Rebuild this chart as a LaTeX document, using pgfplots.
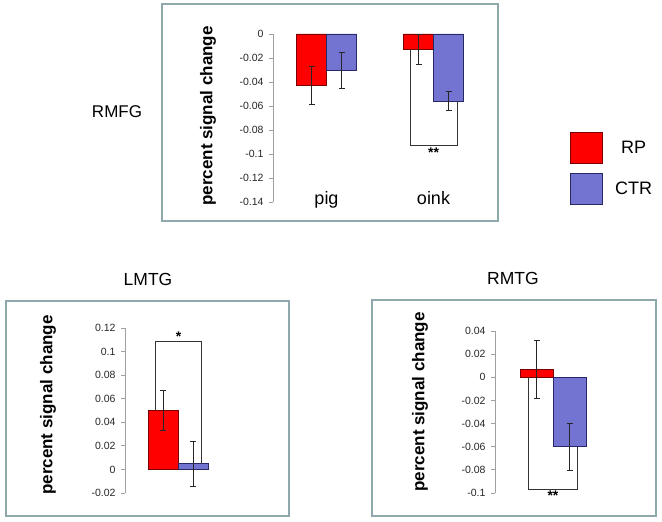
\documentclass[border=0pt]{standalone}
\usepackage{pgfplots}
\pgfplotsset{compat=1.18}
\usepackage{fontspec}
\setmainfont{Liberation Sans}
\definecolor{rpred}{RGB}{255,0,0}
\definecolor{rpedge}{RGB}{120,0,0}
\definecolor{ctrblue}{RGB}{115,115,210}
\definecolor{ctredge}{RGB}{40,40,100}
\definecolor{frame}{RGB}{143,168,172}
\definecolor{axgray}{RGB}{160,160,160}
\tikzset{sigstar/.style={font=\bfseries\fontsize{14}{16}\selectfont, inner sep=1pt}}
\pgfplotsset{
  myax/.style={
    scale only axis, ybar=0pt, clip=false,
    axis x line=none, axis y line*=left,
    y axis line style={axgray, line width=0.8pt, -},
    ytick style={axgray, line width=0.8pt},
    tick align=outside, major tick length=4pt,
    scaled y ticks=false,
    yticklabel style={font=\fontsize{10.5}{12}\selectfont, text=black!85, xshift=-2pt,
      /pgf/number format/fixed, /pgf/number format/precision=2,
      /pgf/number format/assume math mode=true},
    every axis y label/.style={rotate=90, anchor=center,
      font=\bfseries\fontsize{17}{20}\selectfont},
    error bars/y dir=both, error bars/y explicit,
    error bars/error bar style={line width=0.7pt, black!85},
    error bars/error mark options={rotate=90, mark size=3pt, line width=0.7pt, black!85},
  },
  rpbar/.style={fill=rpred, draw=rpedge, line width=0.6pt,
    legend image code/.code={\draw[fill=rpred, draw=rpedge, line width=0.8pt] (0pt,-15.5pt) rectangle (32pt,15.5pt);}},
  ctrbar/.style={fill=ctrblue, draw=ctredge, line width=0.6pt,
    legend image code/.code={\draw[fill=ctrblue, draw=ctredge, line width=0.8pt] (0pt,-15.5pt) rectangle (32pt,15.5pt);}},
}
\begin{document}
\begin{tikzpicture}
\path[use as bounding box] (0pt,0pt) rectangle (662pt,522pt);
% frames
\draw[frame, line width=2pt] (162pt,518pt) rectangle (498pt,301pt);
\draw[frame, line width=2pt] (6pt,221pt) rectangle (289pt,6pt);
\draw[frame, line width=2pt] (372pt,222pt) rectangle (656pt,6pt);
% titles
\node[font=\fontsize{17}{20}\selectfont] at (117pt,410pt) {RMFG};
\node[font=\fontsize{17.5}{20}\selectfont] at (148pt,243pt) {LMTG};
\node[font=\fontsize{17.5}{20}\selectfont] at (513pt,244pt) {RMTG};

% top axis RMFG
\begin{axis}[myax, at={(273pt,320pt)}, anchor=south west,
  x=107pt, y=1200pt, xmin=-0.5, xmax=1.5, ymin=-0.14, ymax=0,
  bar width=30pt,
  ytick={-0.14,-0.12,-0.1,-0.08,-0.06,-0.04,-0.02,0},
  ylabel={percent signal change},
  ylabel style={at={(axis description cs:-0.304,0.512)}},
  legend style={at={(axis description cs:1.388,0.4167)}, anchor=north west,
    draw=none, fill=none, inner sep=0pt, row sep=9pt, column sep=12pt,
    nodes={inner sep=0pt, font=\fontsize{18}{20}\selectfont}},
  legend cell align=center]
\addplot[rpbar] coordinates {(0,-0.043) +- (0,0.016) (1,-0.013) +- (0,0.0125)};
\addlegendentry{RP}
\addplot[ctrbar] coordinates {(0,-0.030) +- (0,0.015) (1,-0.056) +- (0,0.008)};
\addlegendentry{CTR}
\draw[black!80, line width=0.6pt] (axis cs:0.78,-0.013) -- (axis cs:0.78,-0.0925) -- (axis cs:1.22,-0.0925) -- (axis cs:1.22,-0.056);
\node[anchor=north, sigstar] at (axis cs:1,-0.0935) {**};
\node[anchor=base, font=\fontsize{18}{20}\selectfont] at (axis cs:0,-0.1417) {pig};
\node[anchor=base, font=\fontsize{18}{20}\selectfont] at (axis cs:1,-0.1417) {oink};
\end{axis}

% bottom left LMTG
\begin{axis}[myax, at={(125pt,29pt)}, anchor=south west,
  x=107pt, y=1178.6pt, xmin=-0.5, xmax=0.5, ymin=-0.02, ymax=0.12,
  bar width=30pt,
  ytick={-0.02,0,0.02,0.04,0.06,0.08,0.1,0.12},
  ylabel={percent signal change},
  ylabel style={at={(axis description cs:-0.72,0.533)}}]
\addplot[rpbar] coordinates {(0,0.050) +- (0,0.017)};
\addplot[ctrbar] coordinates {(0,0.005) +- (0,0.019)};
\draw[black!80, line width=0.6pt] (axis cs:-0.22,0.05) -- (axis cs:-0.22,0.109) -- (axis cs:0.21,0.109) -- (axis cs:0.21,0.005);
\node[anchor=south, sigstar] at (axis cs:0,0.1075) {*};
\end{axis}

% bottom right RMTG
\begin{axis}[myax, at={(495pt,29pt)}, anchor=south west,
  x=116pt, y=1157pt, xmin=-0.5, xmax=0.5, ymin=-0.1, ymax=0.04,
  bar width=33pt,
  ytick={-0.1,-0.08,-0.06,-0.04,-0.02,0,0.02,0.04},
  ylabel={percent signal change},
  ylabel style={at={(axis description cs:-0.647,0.562)}}]
\addplot[rpbar] coordinates {(0,0.007) +- (0,0.025)};
\addplot[ctrbar] coordinates {(0,-0.060) +- (0,0.020)};
\draw[black!80, line width=0.6pt] (axis cs:-0.21,0) -- (axis cs:-0.21,-0.0968) -- (axis cs:0.21,-0.0968) -- (axis cs:0.21,-0.06);
\node[anchor=north, sigstar] at (axis cs:0,-0.0975) {**};
\end{axis}
\end{tikzpicture}
\end{document}
